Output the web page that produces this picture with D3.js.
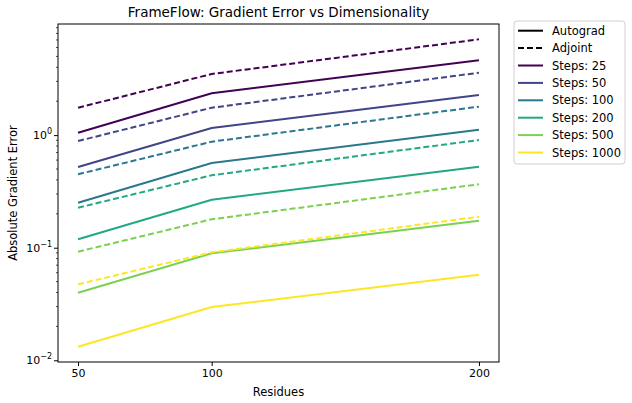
<!DOCTYPE html>
<html><head><meta charset="utf-8">
<script src="https://cdn.jsdelivr.net/npm/d3@7"></script>
<style>body{margin:0;background:#fff}svg{display:block;font-family:"DejaVu Sans",sans-serif}</style>
</head><body><svg id="c" width="632" height="403"></svg>
<script>
const residues = [50, 100, 200];
const steps = [25, 50, 100, 200, 500, 1000];
const colors = ["#440154", "#414487", "#2a788e", "#22a884", "#7ad151", "#fde725"];
const autograd = [
  [1.05, 2.35, 4.62],
  [0.521, 1.157, 2.27],
  [0.251, 0.565, 1.117],
  [0.1187, 0.267, 0.524],
  [0.0398, 0.0892, 0.1737],
  [0.0132, 0.0297, 0.0576]
];
const adjoint = [
  [1.75, 3.49, 7.09],
  [0.886, 1.75, 3.58],
  [0.449, 0.874, 1.79],
  [0.2265, 0.44, 0.905],
  [0.0922, 0.1788, 0.366],
  [0.0473, 0.091, 0.1885]
];
const xTicks = [50, 100, 200];
const yTicks = [1, 0.1, 0.01];
const yTickExp = ["0", "−1", "−2"];

const svg = d3.select("#c");
const L = 58, R = 499, T = 24, B = 362;
const x = d3.scaleLinear().domain([42.5, 207.5]).range([L, R]);
const y = d3.scaleLog().domain([0.00966, 9.70]).range([B, T]);

// lines
const line = d3.line().x((d, i) => x(residues[i])).y(d => y(d));
const g = svg.append("g");
steps.forEach((s, k) => {
  g.append("path").attr("d", line(autograd[k])).attr("fill", "none")
    .attr("stroke", colors[k]).attr("stroke-width", 2);
  g.append("path").attr("d", line(adjoint[k])).attr("fill", "none")
    .attr("stroke", colors[k]).attr("stroke-width", 2).attr("stroke-dasharray", "6,3");
});

// frame
svg.append("rect").attr("x", L).attr("y", T).attr("width", R - L).attr("height", B - T)
  .attr("fill", "none").attr("stroke", "#000").attr("stroke-width", 1);

// x axis
const xa = svg.append("g").attr("transform", `translate(0,${B})`)
  .call(d3.axisBottom(x).tickValues(xTicks).tickSize(4).tickPadding(3).tickFormat(d3.format("d")));
xa.select(".domain").remove();
xa.selectAll("text").attr("font-size", 11).attr("fill", "#000").attr("font-family", "DejaVu Sans");

// y axis major
const ya = svg.append("g").attr("transform", `translate(${L},0)`)
  .call(d3.axisLeft(y).tickValues(yTicks).tickSize(4).tickFormat(""));
ya.select(".domain").remove();
// minor ticks
const minor = [];
[0.01, 0.1, 1].forEach(b => { for (let m = 2; m <= 9; m++) { const v = b * m; if (v <= 9.70) minor.push(v); } });
svg.append("g").selectAll("line").data(minor).join("line")
  .attr("x1", L - 2).attr("x2", L).attr("y1", d => y(d)).attr("y2", d => y(d))
  .attr("stroke", "#000").attr("stroke-width", 0.7);
// y labels with superscripts
yTicks.forEach((v, i) => {
  const t = svg.append("text").attr("x", L - 6).attr("y", y(v) + 4).attr("text-anchor", "end")
    .attr("font-size", 11).attr("fill", "#000");
  t.append("tspan").text("10");
  t.append("tspan").attr("dy", -5).attr("font-size", 8).text(yTickExp[i]);
});

// title and labels
svg.append("text").attr("x", (L + R) / 2).attr("y", 17).attr("text-anchor", "middle")
  .attr("font-size", 13.5).text("FrameFlow: Gradient Error vs Dimensionality");
svg.append("text").attr("x", (L + R) / 2).attr("y", 396).attr("text-anchor", "middle")
  .attr("font-size", 11.5).text("Residues");
svg.append("text").attr("transform", `translate(17,${(T + B) / 2}) rotate(-90)`).attr("text-anchor", "middle")
  .attr("font-size", 11.5).text("Absolute Gradient Error");

// legend
const leg = svg.append("g");
leg.append("rect").attr("x", 514).attr("y", 21).attr("width", 111).attr("height", 143)
  .attr("rx", 3).attr("fill", "#fff").attr("stroke", "#d0d0d0");
const items = [{label: "Autograd", color: "#000", dash: null}, {label: "Adjoint", color: "#000", dash: "6,3"}]
  .concat(steps.map((s, k) => ({label: "Steps: " + s, color: colors[k], dash: null})));
items.forEach((it, i) => {
  const yy = 30.7 + i * 17.4;
  leg.append("line").attr("x1", 518).attr("x2", 543).attr("y1", yy).attr("y2", yy)
    .attr("stroke", it.color).attr("stroke-width", 2).attr("stroke-dasharray", it.dash);
  leg.append("text").attr("x", 552).attr("y", yy + 4).attr("font-size", 11.5).text(it.label);
});
</script></body></html>
